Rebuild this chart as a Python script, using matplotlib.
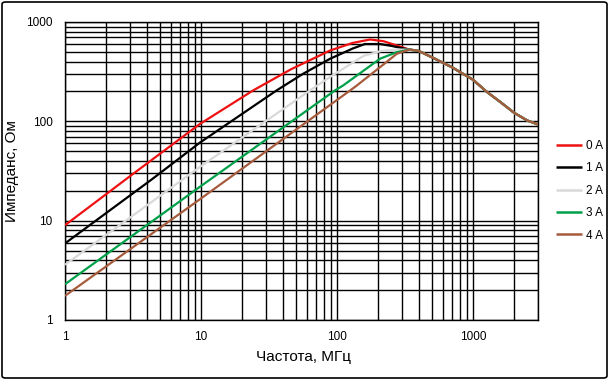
import matplotlib
matplotlib.use("Agg")
import matplotlib.pyplot as plt
from matplotlib.patches import FancyBboxPatch
from matplotlib.ticker import LogLocator, NullFormatter, FixedLocator, FixedFormatter

plt.rcParams['font.family'] = ['Liberation Sans', 'DejaVu Sans']

# ---- data ----
tail_f = [400, 500, 700, 1000, 1250, 1600, 2000, 2500, 3000]
tail_z = [510, 440, 350, 262, 200, 155, 122, 102, 93]

f_0A = [1, 3, 9.8, 24.2, 46, 89, 130, 175, 220, 275, 340]
z_0A = [9.0, 28, 94, 205, 335, 517, 615, 667, 640, 580, 527]

f_1A = [1, 4.34, 9.8, 36, 56, 89, 130, 160, 207, 250, 340]
z_1A = [5.9, 26, 61, 205, 300, 427, 540, 600, 600, 575, 527]

f_2A = [1, 9.8, 63.3, 89, 156, 210, 275, 340]
z_2A = [3.6, 34.7, 205, 280, 455, 510, 528, 527]

f_3A = [1, 9.8, 96.7, 111, 207, 275, 344]
z_3A = [2.29, 21.9, 205, 230, 427, 497, 529]

f_4A = [1, 9.8, 125, 140, 207, 275, 344]
z_4A = [1.75, 16.4, 205, 230, 351, 479, 529]

labels = ['0 A', '1 A', '2 A', '3 A', '4 A']
colors = ['#ee1111', '#000000', '#d9d9d9', '#00a04a', '#a65b3c']

x_ticks = [1, 10, 100, 1000]
x_tick_labels = ['1', '10', '100', '1000']
y_ticks = [1, 10, 100, 1000]
y_tick_labels = ['1', '10', '100', '1000']

W, H = 609, 380
fig = plt.figure(figsize=(W / 100, H / 100), dpi=100)
ax = fig.add_axes([65 / W, (H - 320) / H, (538 - 65) / W, (320 - 22) / H])

series = [(f_0A, z_0A), (f_1A, z_1A), (f_2A, z_2A), (f_3A, z_3A), (f_4A, z_4A)]
for (f, z), lab, c in zip(series, labels, colors):
    ax.plot(f + tail_f, z + tail_z, color=c, lw=1.6, label=lab, zorder=3,
            solid_joinstyle='round', solid_capstyle='butt')

ax.set_xscale('log')
ax.set_yscale('log')
ax.set_xlim(1, 3000)
ax.set_ylim(1, 1000)

ax.xaxis.set_major_locator(FixedLocator(x_ticks))
ax.xaxis.set_major_formatter(FixedFormatter(x_tick_labels))
ax.yaxis.set_major_locator(FixedLocator(y_ticks))
ax.yaxis.set_major_formatter(FixedFormatter(y_tick_labels))
ax.xaxis.set_minor_locator(LogLocator(base=10, subs=range(2, 10), numticks=20))
ax.yaxis.set_minor_locator(LogLocator(base=10, subs=range(2, 10), numticks=20))
ax.xaxis.set_minor_formatter(NullFormatter())
ax.yaxis.set_minor_formatter(NullFormatter())

ax.grid(True, which='both', color='black', lw=1.0)
ax.set_axisbelow(True)
for s in ax.spines.values():
    s.set_color('black')
    s.set_linewidth(1.0)
ax.tick_params(which='both', length=0)
ax.tick_params(axis='x', labelsize=8.5, pad=8)
ax.tick_params(axis='y', labelsize=8.5, pad=9)

ax.set_xlabel('Частота, МГц', fontsize=11)
ax.xaxis.set_label_coords((303 - 65) / (538 - 65), -(357 - 320) / (320 - 22))
ax.xaxis.label.set_va('center')
ax.set_ylabel('Импеданс, Ом', fontsize=11)
ax.yaxis.set_label_coords(-(65 - 12) / (538 - 65), 0.5)
ax.yaxis.label.set_va('center')

leg = ax.legend(loc='upper left', bbox_to_anchor=(556 / W, (H - 140) / H),
                bbox_transform=fig.transFigure, frameon=False, fontsize=8.5,
                handlelength=2.2, handletextpad=0.35, labelspacing=0.88,
                borderpad=0, borderaxespad=0)
for line in leg.get_lines():
    line.set_linewidth(1.8)

border = FancyBboxPatch((2 / W, 2 / H), 605 / W, 376 / H,
                        boxstyle='round,pad=0,rounding_size=0.006',
                        transform=fig.transFigure, fill=False,
                        edgecolor='black', lw=1.2)
fig.patches.append(border)

fig.savefig('out.png', dpi=100)
